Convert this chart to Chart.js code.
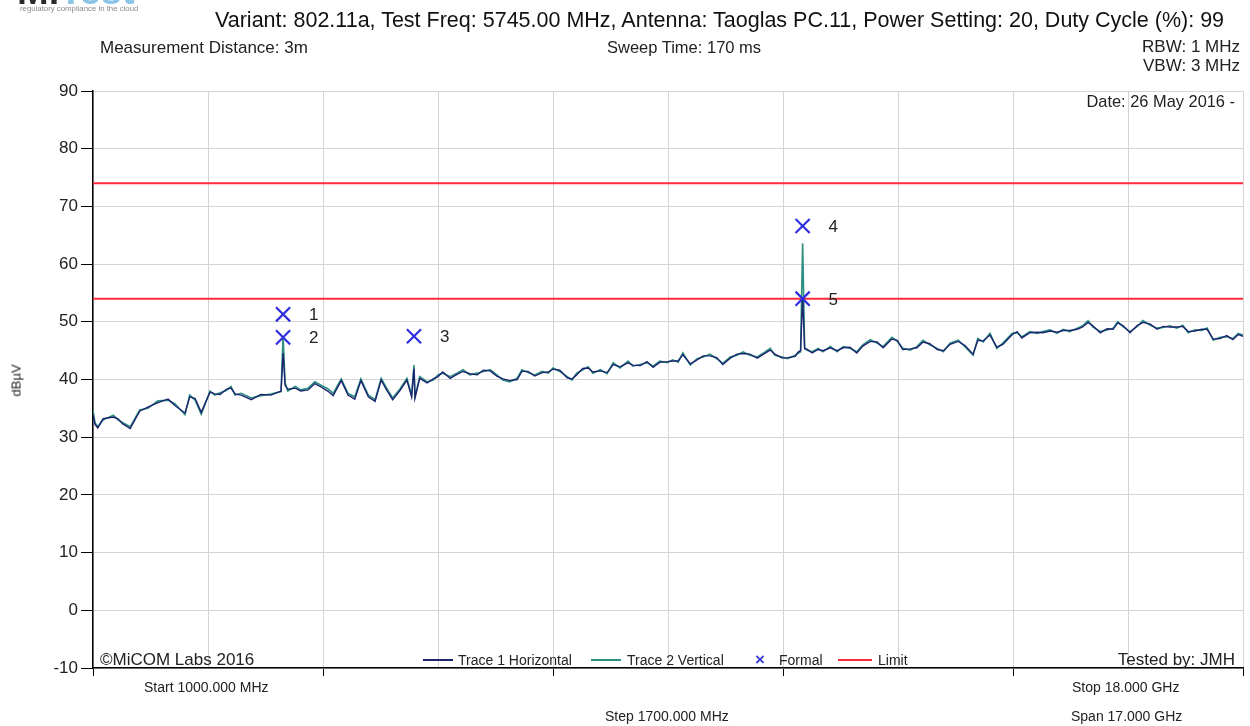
<!DOCTYPE html>
<html lang="en">
<head>
  <meta charset="UTF-8">
  <title>Radiated Spurious Emissions</title>
  <script src="https://cdn.jsdelivr.net/npm/chart.js"></script>
  <style>
    body {
      margin: 0;
      width: 1250px;
      height: 726px;
      background: #fff;
      font-family: "Liberation Sans", Arial, sans-serif;
      color: #222;
      position: relative;
      overflow: hidden;
    }
    #chart { position: absolute; left: 0; top: 0; }
    .txt { position: absolute; white-space: nowrap; line-height: 1; }
    .logo { position: absolute; left: 17px; top: -28px; font-size: 38px; font-weight: bold; line-height: 1; }
    .swatch { position: absolute; height: 2px; }
  </style>
</head>
<body>
  <canvas id="chart" width="1250" height="726"></canvas>

  <!-- logo, cut off at the top like in the original -->
  <div class="logo"><span style="color:#2a2a2a">Mi</span><span style="color:#8cc4e8">Test</span></div>
  <div class="txt" style="left:20px; top:5px; font-size:7.8px; color:#8a8a8a;">regulatory compliance in the cloud</div>

  <div class="txt" style="left:215px; top:10px; font-size:21.5px; color:#111;">Variant: 802.11a, Test Freq: 5745.00 MHz, Antenna: Taoglas PC.11, Power Setting: 20, Duty Cycle (%): 99</div>
  <div class="txt" style="left:100px; top:39px; font-size:17px;">Measurement Distance: 3m</div>
  <div class="txt" style="left:607px; top:39px; font-size:16.5px;">Sweep Time: 170 ms</div>
  <div class="txt" style="right:10px; top:38px; font-size:17px;">RBW: 1 MHz</div>
  <div class="txt" style="right:10px; top:57px; font-size:17px;">VBW: 3 MHz</div>
  <div class="txt" style="right:15px; top:93px; font-size:16.4px;">Date: 26 May 2016 -</div>

  <div class="txt" style="left:100px; top:651px; font-size:17px;">©MiCOM Labs 2016</div>
  <div class="txt" style="right:15px; top:651px; font-size:17px;">Tested by: JMH</div>

  <!-- legend -->
  <div class="swatch" style="left:423px; top:659px; width:30px; background:#1c2470;"></div>
  <div class="txt" style="left:458px; top:653px; font-size:14px;">Trace 1 Horizontal</div>
  <div class="swatch" style="left:591px; top:659px; width:30px; background:#2a8f7f;"></div>
  <div class="txt" style="left:627px; top:653px; font-size:14px;">Trace 2 Vertical</div>
  <div class="txt" style="left:755px; top:651px; font-size:17px; font-weight:bold; color:#3b3bd8;">×</div>
  <div class="txt" style="left:779px; top:653px; font-size:14px;">Formal</div>
  <div class="swatch" style="left:838px; top:659px; width:34px; background:#ff2a3a;"></div>
  <div class="txt" style="left:878px; top:653px; font-size:14px;">Limit</div>

  <!-- axis captions -->
  <div class="txt" style="left:144px; top:680px; font-size:14px;">Start 1000.000 MHz</div>
  <div class="txt" style="left:1072px; top:680px; font-size:14px;">Stop 18.000 GHz</div>
  <div class="txt" style="left:605px; top:709px; font-size:14px;">Step 1700.000 MHz</div>
  <div class="txt" style="left:1071px; top:709px; font-size:14px;">Span 17.000 GHz</div>
  <div class="txt" style="left:0px; top:374px; font-size:13px; transform:rotate(-90deg);">dBµV</div>

  <script>
    // frequency points (MHz)
    const freqs = [
      1000,1030,1070,1150,1300,1370,1440,1550,1690,1810,
      1960,2110,2210,2360,2430,2510,2600,2730,2800,2880,
      2970,3040,3100,3190,3340,3480,3630,3780,3810,3840,
      3880,3990,4070,4180,4280,4370,4470,4550,4670,4770,
      4870,4960,5070,5170,5260,5340,5430,5540,5640,5710,
      5745,5760,5830,5940,6030,6100,6170,6280,6380,6470,
      6570,6680,6770,6870,6970,7060,7160,7270,7340,7430,
      7530,7640,7730,7800,7900,8010,8080,8150,8240,8320,
      8390,8500,8600,8690,8790,8910,8980,9090,9190,9280,
      9380,9490,9570,9650,9720,9830,9930,10020,10120,10220,
      10310,10420,10520,10610,10710,10820,10900,11010,11080,11190,
      11270,11380,11420,11460,11490,11520,11550,11630,11720,11790,
      11900,12000,12090,12190,12290,12380,12490,12590,12680,12810,
      12890,12970,13080,13180,13270,13370,13480,13570,13670,13790,
      13890,14010,14080,14160,14260,14360,14450,14590,14660,14730,
      14850,14960,15040,15150,15250,15340,15440,15550,15630,15710,
      15780,15890,15990,16080,16150,16230,16330,16430,16520,16630,
      16730,16820,16920,17020,17110,17190,17290,17390,17470,17560,
      17660,17760,17850,17930,18000
    ];

    // Trace 1 Horizontal (dBµV)
    const trace1 = [
      33.9,32.2,31.6,33.2,33.5,33.2,32.3,31.5,34.5,35.2,
      36.0,36.6,35.5,34.2,37.0,36.7,34.3,37.8,37.5,37.4,
      38.3,38.5,37.5,37.3,36.5,37.4,37.3,38.0,44.6,39.0,
      38.3,38.5,38.0,38.2,39.3,38.7,38.0,37.2,39.8,37.3,
      36.6,39.8,37.0,36.2,39.9,38.2,36.5,38.1,39.9,37.0,
      41.9,36.8,40.2,39.4,40.1,40.5,41.3,40.2,40.9,41.4,
      41.0,40.8,41.6,41.5,40.6,40.1,39.8,40.0,41.4,41.4,
      40.6,41.2,41.3,41.8,41.6,40.3,40.1,40.8,41.9,42.0,
      41.3,41.5,41.2,42.6,42.2,42.9,42.5,42.4,43.1,42.1,
      43.0,43.1,43.2,43.2,44.3,42.7,43.4,44.1,44.1,43.8,
      42.6,43.7,44.4,44.5,44.4,43.7,44.3,45.1,44.4,43.7,
      43.8,44.0,44.7,45.0,54.3,45.3,45.3,44.6,45.2,45.0,
      45.5,45.0,45.5,45.6,44.6,45.8,46.6,46.5,45.5,47.0,
      46.8,45.2,45.3,45.5,46.5,46.2,45.2,45.0,46.1,46.6,
      45.9,44.4,46.8,46.7,47.7,45.6,46.1,47.8,48.3,47.2,
      48.1,48.2,48.1,48.4,48.2,48.5,48.5,48.7,49.1,49.9,
      49.3,48.1,48.8,48.7,49.8,49.3,48.1,49.3,49.9,49.6,
      48.7,49.2,49.1,49.1,49.2,48.3,48.4,48.7,48.7,47.0,
      47.1,47.6,46.9,47.8,47.5
    ];

    // Trace 2 Vertical (dBµV)
    const trace2 = [
      34.7,32.5,31.8,33.0,33.8,33.0,32.5,31.8,34.7,35.0,
      36.3,36.4,35.8,33.9,37.3,36.4,34.0,38.0,37.3,37.7,
      38.1,38.8,37.3,37.6,36.8,37.2,37.5,37.9,47.5,39.4,
      38.0,38.8,38.2,38.5,39.6,39.0,38.4,37.6,40.1,37.6,
      37.0,40.1,37.3,36.5,40.2,38.5,36.8,38.4,40.2,37.3,
      42.5,37.0,40.5,39.6,39.9,40.8,41.1,40.5,41.1,41.7,
      40.8,41.1,41.4,41.7,40.8,39.9,39.6,40.2,41.7,41.2,
      40.8,41.4,41.1,42.0,41.4,40.5,39.9,41.1,41.7,42.2,
      41.1,41.7,41.0,42.9,42.0,43.2,42.3,42.6,42.9,42.3,
      43.2,42.9,43.4,43.0,44.6,42.5,43.6,43.9,44.4,43.6,
      42.8,43.9,44.2,44.8,44.2,43.9,44.5,45.4,44.2,43.9,
      43.6,44.2,44.5,44.8,63.6,45.5,45.1,44.8,45.4,44.8,
      45.7,44.8,45.7,45.4,44.8,46.0,46.9,46.3,45.7,47.3,
      46.6,45.4,45.1,45.7,46.8,46.0,45.4,44.8,46.3,46.8,
      45.7,44.2,47.1,46.5,48.0,45.4,46.3,48.0,48.1,47.4,
      48.3,48.0,48.3,48.6,48.0,48.7,48.3,48.9,49.3,50.2,
      49.1,48.3,48.6,48.9,50.0,49.1,48.3,49.1,50.2,49.4,
      48.9,49.0,49.3,48.9,49.4,48.1,48.6,48.5,48.9,46.8,
      47.3,47.4,47.1,48.0,47.7
    ];

    // formal markers
    const markerFreqs = [3810, 3810, 5745, 11490, 11490];
    const markerLevels = [51.3, 47.3, 47.5, 66.6, 54.0];
    const markerLabels = ['1', '2', '3', '4', '5'];

    // limit lines
    const limitLevels = [74, 54];
    const startFreq = 1000, stopFreq = 18000, stepFreq = 1700;

    const toPoints = vals => freqs.map((f, i) => ({ x: f, y: vals[i] }));

    const datasets = [
      {
        label: 'Formal',
        data: markerFreqs.map((f, i) => ({ x: f, y: markerLevels[i] })),
        showLine: false,
        pointStyle: 'crossRot',
        pointRadius: 10,
        pointBorderWidth: 2.2,
        pointBorderColor: '#2e2edf',
        borderColor: '#2e2edf'
      },
      {
        label: 'Trace 1 Horizontal',
        data: toPoints(trace1),
        borderColor: '#1c2470',
        borderWidth: 1.4,
        pointRadius: 0,
        tension: 0
      },
      {
        label: 'Trace 2 Vertical',
        data: toPoints(trace2),
        borderColor: '#2a8f7f',
        borderWidth: 1.6,
        pointRadius: 0,
        tension: 0
      }
    ];
    limitLevels.forEach(lv => {
      datasets.push({
        label: 'Limit',
        data: [{ x: startFreq, y: lv }, { x: stopFreq, y: lv }],
        borderColor: '#ff2a3a',
        borderWidth: 2,
        pointRadius: 0
      });
    });

    const chart = new Chart(document.getElementById('chart'), {
      type: 'line',
      data: { datasets },
      options: {
        responsive: false,
        animation: false,
        layout: { autoPadding: false, padding: { top: 91, right: 7, left: 0, bottom: 0 } },
        plugins: { legend: { display: false }, tooltip: { enabled: false } },
        scales: {
          x: {
            type: 'linear',
            min: startFreq,
            max: stopFreq,
            ticks: { stepSize: stepFreq, display: false },
            grid: {
              color: '#d4d4d4',
              tickLength: 8,
              tickColor: ctx => ctx.index % 2 === 0 ? '#000' : 'rgba(0,0,0,0)'
            },
            border: { color: '#000', width: 1.5 },
            afterFit: s => { s.height = 58; }
          },
          y: {
            min: -10,
            max: 90,
            ticks: {
              stepSize: 10,
              padding: 3,
              color: '#222',
              font: { family: '"Liberation Sans", Arial, sans-serif', size: 17 }
            },
            grid: { color: '#d4d4d4', tickLength: 12, tickColor: '#000' },
            border: { color: '#000', width: 1.5 },
            afterFit: s => { s.width = 93; }
          }
        }
      }
    });

    // marker numbers as text next to each cross
    markerFreqs.forEach((f, i) => {
      const px = chart.scales.x.getPixelForValue(f);
      const py = chart.scales.y.getPixelForValue(markerLevels[i]);
      const d = document.createElement('div');
      d.className = 'txt';
      d.style.fontSize = '17px';
      d.style.left = (px + 26) + 'px';
      d.style.top = (py - 8) + 'px';
      d.textContent = markerLabels[i];
      document.body.appendChild(d);
    });
  </script>
</body>
</html>
